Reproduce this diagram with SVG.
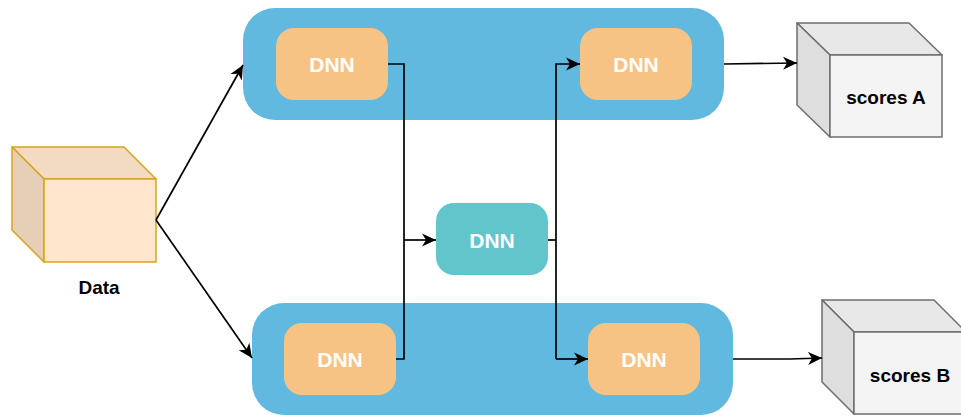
<svg xmlns="http://www.w3.org/2000/svg" width="961" height="415" viewBox="0 0 961 415">
  <defs>
    <marker id="arrow" viewBox="0 0 14 14" refX="14" refY="7" markerWidth="14" markerHeight="14" markerUnits="userSpaceOnUse" orient="auto">
      <path d="M0,0.5 L14,7 L0,13.5 L4,7 Z" fill="#000"/>
    </marker>
  </defs>
  <style>
    .band { fill: #62B9E0; }
    .dnn { fill: #F7C385; }
    .shared { fill: #62C5CC; }
    .lbl { font-family: "Liberation Sans", Arial, sans-serif; font-weight: bold; text-anchor: middle; dominant-baseline: central; }
    .white { fill: #fff; font-size: 21px; }
    .dark { fill: #000; font-size: 19px; }
    .edge { fill: none; stroke: #000; stroke-width: 1.7; }
    .grey-front { fill: #F4F4F4; stroke: #6E6E6E; stroke-width: 1.5; }
    .grey-top { fill: #E8E8E8; stroke: #6E6E6E; stroke-width: 1.5; stroke-linejoin: round; }
    .grey-side { fill: #DEDEDE; stroke: #6E6E6E; stroke-width: 1.5; stroke-linejoin: round; }
  </style>

  <!-- task bands -->
  <g id="band-top"><rect class="band" x="243" y="8" width="481" height="112" rx="32"/></g>
  <g id="band-bottom"><rect class="band" x="252" y="303" width="481" height="112" rx="32"/></g>

  <!-- data cube -->
  <g id="data">
    <polygon points="12,147 124,147 156,179 44,179" fill="#F2DAC3" stroke="#D9A21E" stroke-width="1.5" stroke-linejoin="round"/>
    <polygon points="12,147 44,179 44,262 12,230" fill="#E6CFB7" stroke="#D9A21E" stroke-width="1.5" stroke-linejoin="round"/>
    <rect x="44" y="179" width="112" height="83" fill="#FFE6CC" stroke="#D9A21E" stroke-width="1.5"/>
    <text class="lbl dark" x="99" y="287">Data</text>
  </g>

  <!-- DNN blocks -->
  <g id="dnn-top-left">
    <rect class="dnn" x="276" y="28" width="112" height="72" rx="18"/>
    <text class="lbl white" x="332" y="64">DNN</text>
  </g>
  <g id="dnn-top-right">
    <rect class="dnn" x="580" y="28" width="112" height="72" rx="18"/>
    <text class="lbl white" x="636" y="64">DNN</text>
  </g>
  <g id="dnn-shared">
    <rect class="shared" x="436" y="203" width="112" height="72" rx="18"/>
    <text class="lbl white" x="492" y="240">DNN</text>
  </g>
  <g id="dnn-bottom-left">
    <rect class="dnn" x="284" y="323" width="112" height="72" rx="18"/>
    <text class="lbl white" x="340" y="359">DNN</text>
  </g>
  <g id="dnn-bottom-right">
    <rect class="dnn" x="588" y="323" width="112" height="72" rx="18"/>
    <text class="lbl white" x="644" y="359">DNN</text>
  </g>

  <!-- output cubes -->
  <g id="scores-a">
    <polygon points="797,23 909,23 942,55 830,55" class="grey-top"/>
    <polygon points="797,23 830,55 830,137 797,105" class="grey-side"/>
    <rect x="830" y="55" width="112" height="82" class="grey-front"/>
    <text class="lbl dark" x="886" y="97">scores A</text>
  </g>
  <g id="scores-b">
    <polygon points="822,300 934,300 966,332 854,332" class="grey-top"/>
    <polygon points="822,300 854,332 854,414 822,382" class="grey-side"/>
    <rect x="854" y="332" width="112" height="82" class="grey-front"/>
    <text class="lbl dark" x="910" y="375">scores B</text>
  </g>

  <!-- connectors -->
  <g id="connectors">
    <path class="edge" d="M156,220 L243,65" marker-end="url(#arrow)"/>
    <path class="edge" d="M156,220 L252,358" marker-end="url(#arrow)"/>
    <path class="edge" d="M388,64 L404,64 L404,359 L396,359"/>
    <path class="edge" d="M404,240 L436,240" marker-end="url(#arrow)"/>
    <path class="edge" d="M548,240 L556,240"/>
    <path class="edge" d="M556,359 L556,64 L580,64" marker-end="url(#arrow)"/>
    <path class="edge" d="M556,359 L588,359" marker-end="url(#arrow)"/>
    <path class="edge" d="M724,64 L797,63" marker-end="url(#arrow)"/>
    <path class="edge" d="M733,359 L790,359 L822,358" marker-end="url(#arrow)"/>
  </g>
</svg>
